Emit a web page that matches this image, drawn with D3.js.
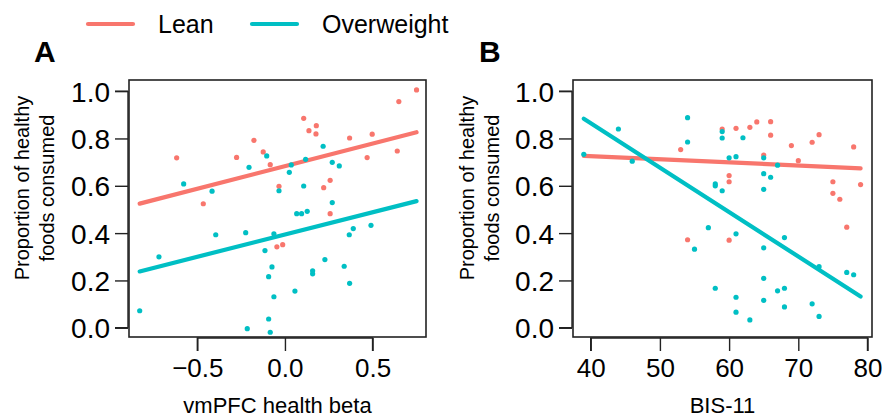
<!DOCTYPE html>
<html>
<head>
<meta charset="utf-8">
<script src="https://cdn.jsdelivr.net/npm/d3@7"></script>
<style>
  body { margin: 0; background: #fff; }
  svg text { font-family: "Liberation Sans", Arial, sans-serif; fill: #000; }
</style>
</head>
<body>
<div id="container"></div>
<script>
// data
// panel A: vmPFC health beta vs proportion healthy
let leanA_x = [-0.618, -0.177, -0.276, -0.124, -0.084, -0.466, -0.034, 0.751, 0.650, 0.107, 0.179,
  0.137, 0.177, 0.369, 0.498, 0.469, 0.641, 0.258, 0.221, 0.258, -0.046, -0.013];
let leanA_y = [0.718, 0.792, 0.720, 0.743, 0.689, 0.524, 0.598, 1.005, 0.956, 0.885, 0.854,
  0.833, 0.819, 0.802, 0.818, 0.719, 0.747, 0.623, 0.592, 0.482, 0.342, 0.351];
let overA_x = [-0.578, -0.416, -0.205, -0.104, -0.034, 0.218, 0.118, 0.036, 0.025, 0.270, 0.310,
  0.107, 0.270, 0.067, 0.095, 0.127, -0.719, -0.395, -0.224, -0.063, -0.114, -0.074, -0.093,
  -0.063, -0.829, -0.093, -0.215, -0.084, 0.367, 0.390, 0.491, 0.228, 0.158, 0.158, 0.338,
  0.369, 0.057];
let overA_y = [0.608, 0.577, 0.678, 0.726, 0.579, 0.767, 0.712, 0.688, 0.657, 0.699, 0.684,
  0.599, 0.529, 0.482, 0.482, 0.492, 0.300, 0.393, 0.402, 0.397, 0.326, 0.257, 0.216,
  0.131, 0.072, 0.037, -0.004, -0.019, 0.393, 0.419, 0.433, 0.288, 0.241, 0.228, 0.260,
  0.188, 0.155];

// panel B: BIS-11 vs proportion healthy
let leanB_x = [53, 59, 61, 63, 64, 66, 66, 69, 72, 73, 78, 65, 70, 60, 60, 75, 79, 75, 76, 54, 60, 77];
let leanB_y = [0.753, 0.840, 0.843, 0.847, 0.870, 0.871, 0.814, 0.770, 0.784, 0.816, 0.764,
  0.730, 0.706, 0.643, 0.617, 0.617, 0.605, 0.568, 0.543, 0.372, 0.370, 0.425];
let overB_x = [39, 44, 46, 54, 54, 59, 59, 62, 60, 61, 65, 67, 65, 66, 58, 58, 59, 65, 55, 57,
  61, 65, 68, 73, 77, 78, 65, 58, 61, 67, 68, 65, 61, 63, 68, 72, 73];
let overB_y = [0.733, 0.840, 0.704, 0.888, 0.785, 0.829, 0.802, 0.803, 0.718, 0.723, 0.718,
  0.687, 0.651, 0.636, 0.608, 0.600, 0.579, 0.585, 0.332, 0.423, 0.397, 0.338, 0.381,
  0.258, 0.234, 0.224, 0.209, 0.167, 0.129, 0.156, 0.167, 0.116, 0.066, 0.033, 0.088,
  0.101, 0.048];

// fitted lines [intercept, slope] as drawn
let fitLeanA = [0.683, 0.191];
let fitOverA = [0.394, 0.188];
let fitLeanB = [0.778, -0.00132];
let fitOverB = [1.6165, -0.01879];

let groups = ["Lean", "Overweight"];
let colors = ["#F8766D", "#00BFC4"];

let yTicks = [0, 0.2, 0.4, 0.6, 0.8, 1.0];
let xTicksA = [-0.5, 0, 0.5];
let xTicksB = [40, 50, 60, 70, 80];

let w = 882;
let h = 418;

let viz = d3.select("#container")
    .append("svg")
    .attr("width", w)
    .attr("height", h);

let yScale = d3.scaleLinear().domain([-0.039, 1.047]).range([337, 80]);
let xScaleA = d3.scaleLinear().domain([-0.89, 0.805]).range([129, 426]);
let xScaleB = d3.scaleLinear().domain([37.44, 80.65]).range([573, 872]);

function zip(xs, ys) {
    return xs.map(function(d, i){ return {x: d, y: ys[i]}; });
}

function drawPanel(xScale, xTicks, xFormat, title, letter, lean, over, fits, labelX) {
    let g = viz.append("g");
    let x0 = xScale.range()[0];
    let x1 = xScale.range()[1];

    // y axis
    let yAxis = d3.axisLeft(yScale).tickValues(yTicks).tickFormat(d3.format(".1f"))
        .tickSize(13).tickPadding(5);
    let yg = g.append("g").attr("transform", "translate(" + (x0 - 1) + ",0)").call(yAxis);
    yg.select(".domain").attr("stroke", "#222").attr("stroke-width", 1.4)
        .attr("d", "M-13," + yScale(0) + "H0M-13," + yScale(1) + "H0M0," + yScale(0) + "V" + yScale(1));
    yg.selectAll(".tick line").attr("stroke", "#222").attr("stroke-width", 1.4);
    yg.selectAll("text").style("font-size", "28px").attr("dy", "0.36em");

    // x axis
    let xAxis = d3.axisBottom(xScale).tickValues(xTicks).tickFormat(xFormat)
        .tickSize(13).tickPadding(6);
    let xg = g.append("g").attr("transform", "translate(0,338)").call(xAxis);
    xg.select(".domain").attr("d", "M" + xScale(xTicks[0]) + ",13V0H" + xScale(xTicks[xTicks.length - 1]) + "V13")
        .attr("stroke", "#222").attr("stroke-width", 1.4);
    xg.selectAll(".tick line").attr("stroke", "#222").attr("stroke-width", 1.4);
    xg.selectAll("text").style("font-size", "26px").attr("dy", "0.76em");

    // plot box
    g.append("rect")
        .attr("x", x0).attr("y", 80)
        .attr("width", x1 - x0).attr("height", 257)
        .attr("fill", "none").attr("stroke", "#222").attr("stroke-width", 1.6);

    // regression lines across the x range of the data
    let allX = lean.map(d => d.x).concat(over.map(d => d.x));
    let ext = d3.extent(allX);
    fits.forEach(function(f, i){
        g.append("line")
            .attr("x1", xScale(ext[0])).attr("y1", yScale(f[0] + f[1] * ext[0]))
            .attr("x2", xScale(ext[1])).attr("y2", yScale(f[0] + f[1] * ext[1]))
            .attr("stroke", colors[i]).attr("stroke-width", 4.2)
            .attr("stroke-linecap", "round");
    });

    // points
    [lean, over].forEach(function(pts, i){
        g.selectAll(".pt" + i).data(pts).enter()
            .append("circle")
            .attr("cx", d => xScale(d.x))
            .attr("cy", d => yScale(d.y))
            .attr("r", 2.6)
            .attr("fill", colors[i]);
    });

    // titles
    g.append("text")
        .attr("x", (x0 + x1) / 2).attr("y", 413)
        .attr("text-anchor", "middle")
        .style("font-size", "22px")
        .text(title);

    let yl = g.append("text")
        .attr("transform", "translate(" + labelX + "," + 188 + ") rotate(-90)")
        .attr("text-anchor", "middle")
        .style("font-size", "20px");
    yl.append("tspan").attr("x", 0).attr("y", 0).text("Proportion of healthy");
    yl.append("tspan").attr("x", 0).attr("y", 25).text("foods consumed");

    g.append("text")
        .attr("x", labelX + 5).attr("y", 62)
        .style("font-size", "30px").style("font-weight", "bold")
        .text(letter);
}

drawPanel(xScaleA, xTicksA, d3.format(".1f"), "vmPFC health beta", "A",
    zip(leanA_x, leanA_y), zip(overA_x, overA_y), [fitLeanA, fitOverA], 29);
drawPanel(xScaleB, xTicksB, d3.format("d"), "BIS-11", "B",
    zip(leanB_x, leanB_y), zip(overB_x, overB_y), [fitLeanB, fitOverB], 474);

// legend
let legendX = [88, 252];
groups.forEach(function(name, i){
    viz.append("line")
        .attr("x1", legendX[i]).attr("x2", legendX[i] + 45)
        .attr("y1", 24).attr("y2", 24)
        .attr("stroke", colors[i]).attr("stroke-width", 4.2)
        .attr("stroke-linecap", "round");
    viz.append("text")
        .attr("x", legendX[i] + 70).attr("y", 33)
        .style("font-size", "25px")
        .text(name);
});
</script>
</body>
</html>
